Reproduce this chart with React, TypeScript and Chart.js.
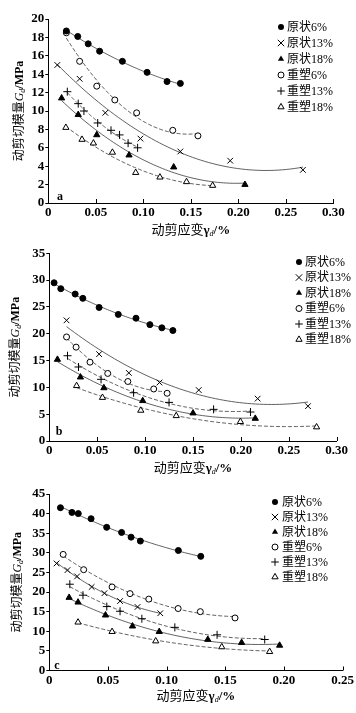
import React, { useEffect, useRef } from "react";
import { Chart, registerables } from "chart.js";
Chart.register(...registerables);

// ---------- labels ----------
const SERIES_LABELS = ["原状6%", "原状13%", "原状18%", "重塑6%", "重塑13%", "重塑18%"];
const X_TICKS_AB = ["0", "0.05", "0.10", "0.15", "0.20", "0.25", "0.30"];
const X_TICKS_C = ["0", "0.05", "0.10", "0.15", "0.20", "0.25"];
const Y_TICKS_A = ["0", "2", "4", "6", "8", "10", "12", "14", "16", "18", "20"];
const Y_TICKS_B = ["0", "5", "10", "15", "20", "25", "30", "35"];
const Y_TICKS_C = ["0", "5", "10", "15", "20", "25", "30", "35", "40", "45"];

// ---------- panel a ----------
const A_YZ6_X = [0.019, 0.031, 0.042, 0.054, 0.078, 0.104, 0.125, 0.139];
const A_YZ6_Y = [18.7, 18.1, 17.3, 16.5, 15.4, 14.2, 13.2, 13.0];
const A_YZ13_X = [0.0095, 0.033, 0.06, 0.097, 0.139, 0.1915, 0.268];
const A_YZ13_Y = [15.0, 13.5, 9.8, 7.0, 5.6, 4.6, 3.6];
const A_YZ18_X = [0.014, 0.0315, 0.051, 0.085, 0.132, 0.207];
const A_YZ18_Y = [11.4, 9.6, 7.4, 5.2, 3.9, 2.0];
const A_CS6_X = [0.019, 0.033, 0.051, 0.07, 0.093, 0.131, 0.1575];
const A_CS6_Y = [18.5, 15.4, 12.7, 11.2, 9.8, 7.9, 7.3];
const A_CS13_X = [0.02, 0.0315, 0.0375, 0.052, 0.066, 0.075, 0.084, 0.094];
const A_CS13_Y = [12.1, 10.8, 10.0, 8.7, 7.9, 7.4, 6.5, 6.0];
const A_CS18_X = [0.0185, 0.0355, 0.0475, 0.0675, 0.092, 0.1175, 0.1455, 0.173];
const A_CS18_Y = [8.2, 6.9, 6.5, 5.5, 3.3, 2.8, 2.3, 1.9];

// ---------- panel b ----------
const B_YZ6_X = [0.005, 0.012, 0.027, 0.035, 0.052, 0.072, 0.0905, 0.105, 0.1175, 0.129];
const B_YZ6_Y = [29.5, 28.4, 27.4, 26.6, 24.9, 23.6, 22.9, 21.7, 21.1, 20.6];
const B_YZ13_X = [0.018, 0.052, 0.083, 0.115, 0.156, 0.2175, 0.27];
const B_YZ13_Y = [22.5, 16.2, 12.7, 10.9, 9.5, 7.9, 6.5];
const B_YZ18_X = [0.0085, 0.0325, 0.057, 0.0975, 0.15, 0.215];
const B_YZ18_Y = [15.2, 11.9, 9.9, 7.5, 5.2, 4.2];
const B_CS6_X = [0.018, 0.028, 0.0425, 0.061, 0.082, 0.109, 0.123];
const B_CS6_Y = [19.4, 17.5, 14.7, 12.6, 11.1, 9.7, 8.9];
const B_CS13_X = [0.019, 0.0305, 0.054, 0.088, 0.125, 0.1715, 0.21];
const B_CS13_Y = [15.9, 13.8, 11.5, 9.0, 7.2, 5.9, 5.4];
const B_CS18_X = [0.0285, 0.0555, 0.0955, 0.1325, 0.1995, 0.279];
const B_CS18_Y = [10.3, 8.1, 5.7, 4.7, 3.6, 2.6];

// ---------- panel c ----------
const C_YZ6_X = [0.0095, 0.0193, 0.0247, 0.0356, 0.0489, 0.0616, 0.0697, 0.0776, 0.11, 0.1291];
const C_YZ6_Y = [41.5, 40.3, 40.0, 38.7, 36.5, 35.2, 34.0, 33.0, 30.6, 29.1];
const C_YZ13_X = [0.0062, 0.0155, 0.0237, 0.0361, 0.047, 0.0603, 0.0752, 0.0946];
const C_YZ13_Y = [27.3, 25.6, 24.0, 21.3, 19.7, 17.7, 16.2, 14.6];
const C_YZ18_X = [0.0169, 0.0245, 0.0479, 0.0709, 0.0937, 0.1351, 0.1639, 0.1963];
const C_YZ18_Y = [18.6, 17.4, 14.1, 11.3, 9.9, 7.9, 7.1, 6.4];
const C_CS6_X = [0.0118, 0.0293, 0.0535, 0.0688, 0.0848, 0.1098, 0.1287, 0.1583];
const C_CS6_Y = [29.6, 25.7, 21.3, 19.6, 18.2, 15.8, 15.0, 13.4];
const C_CS13_X = [0.0175, 0.0287, 0.049, 0.0603, 0.0789, 0.107, 0.143, 0.1836];
const C_CS13_Y = [22.0, 19.2, 16.3, 15.1, 13.2, 11.0, 9.1, 7.9];
const C_CS18_X = [0.0245, 0.0535, 0.0907, 0.147, 0.1878];
const C_CS18_Y = [12.3, 9.9, 7.5, 6.0, 4.8];

const SERIF = "'Liberation Serif','Noto Sans CJK SC',serif";
const MARKERS = ["dot", "x", "tri", "ring", "plus", "otri"];

// quadratic least-squares trend line (like a spreadsheet polynomial trendline)
function quadFit(xs: number[], ys: number[]) {
  let n = xs.length, s1 = 0, s2 = 0, s3 = 0, s4 = 0, t0 = 0, t1 = 0, t2 = 0;
  for (let i = 0; i < n; i++) {
    const x = xs[i], y = ys[i];
    s1 += x; s2 += x * x; s3 += x * x * x; s4 += x * x * x * x;
    t0 += y; t1 += x * y; t2 += x * x * y;
  }
  const M = [[n, s1, s2, t0], [s1, s2, s3, t1], [s2, s3, s4, t2]];
  for (let c = 0; c < 3; c++) {
    let p = c;
    for (let r = c + 1; r < 3; r++) if (Math.abs(M[r][c]) > Math.abs(M[p][c])) p = r;
    [M[c], M[p]] = [M[p], M[c]];
    for (let r = 0; r < 3; r++) {
      if (r === c) continue;
      const f = M[r][c] / M[c][c];
      for (let k = c; k < 4; k++) M[r][k] -= f * M[c][k];
    }
  }
  const a = M[0][3] / M[0][0], b = M[1][3] / M[1][1], cc = M[2][3] / M[2][2];
  return (x: number) => a + b * x + cc * x * x;
}

function trend(xs: number[], ys: number[]) {
  const f = quadFit(xs, ys);
  const x0 = Math.min(...xs), x1 = Math.max(...xs);
  const pts: { x: number; y: number }[] = [];
  const N = 60;
  for (let i = 0; i <= N; i++) {
    const x = x0 + ((x1 - x0) * i) / N;
    pts.push({ x, y: f(x) });
  }
  return pts;
}

function drawMarker(ctx: CanvasRenderingContext2D, kind: string, x: number, y: number) {
  ctx.save();
  ctx.strokeStyle = "#000";
  ctx.fillStyle = "#000";
  ctx.lineWidth = 1;
  ctx.beginPath();
  if (kind === "dot" || kind === "ring") {
    ctx.arc(x, y, 3, 0, Math.PI * 2);
    if (kind === "dot") ctx.fill();
    else { ctx.fillStyle = "#fff"; ctx.fill(); ctx.stroke(); }
  } else if (kind === "tri" || kind === "otri") {
    const r = 3.6;
    ctx.moveTo(x, y - r);
    ctx.lineTo(x + r * 0.866, y + r * 0.5);
    ctx.lineTo(x - r * 0.866, y + r * 0.5);
    ctx.closePath();
    if (kind === "tri") ctx.fill();
    else { ctx.fillStyle = "#fff"; ctx.fill(); ctx.stroke(); }
  } else if (kind === "x") {
    const r = 3.2;
    ctx.moveTo(x - r, y - r); ctx.lineTo(x + r, y + r);
    ctx.moveTo(x - r, y + r); ctx.lineTo(x + r, y - r);
    ctx.stroke();
  } else {
    const r = 3.8;
    ctx.moveTo(x - r, y); ctx.lineTo(x + r, y);
    ctx.moveTo(x, y - r); ctx.lineTo(x, y + r);
    ctx.stroke();
  }
  ctx.restore();
}

type PanelDef = {
  top: number; height: number; padTop: number; padRight: number; left: number; bottomSpace: number;
  xLabels: string[]; yLabels: string[];
  xs: number[][]; ys: number[][];
  legendMX: number; legendTX: number; legendY: number; legendStep: number;
  xTitleY: number; yTitleX: number; tag: string; tagX: number; tagY: number;
};

const PANELS: PanelDef[] = [
  {
    top: 0, height: 238, padTop: 19, padRight: 22.7, left: 48.3, bottomSpace: 35,
    xLabels: X_TICKS_AB, yLabels: Y_TICKS_A,
    xs: [A_YZ6_X, A_YZ13_X, A_YZ18_X, A_CS6_X, A_CS13_X, A_CS18_X],
    ys: [A_YZ6_Y, A_YZ13_Y, A_YZ18_Y, A_CS6_Y, A_CS13_Y, A_CS18_Y],
    legendMX: 281, legendTX: 287, legendY: 27, legendStep: 16,
    xTitleY: 231, yTitleX: 20, tag: "a", tagX: 60, tagY: 197,
  },
  {
    top: 238, height: 236, padTop: 15.3, padRight: 19.3, left: 49.3, bottomSpace: 33,
    xLabels: X_TICKS_AB, yLabels: Y_TICKS_B,
    xs: [B_YZ6_X, B_YZ13_X, B_YZ18_X, B_CS6_X, B_CS13_X, B_CS18_X],
    ys: [B_YZ6_Y, B_YZ13_Y, B_YZ18_Y, B_CS6_Y, B_CS13_Y, B_CS18_Y],
    legendMX: 299, legendTX: 305, legendY: 24, legendStep: 15.5,
    xTitleY: 231, yTitleX: 16, tag: "b", tagX: 59, tagY: 194,
  },
  {
    top: 474, height: 239, padTop: 20, padRight: 11, left: 49.3, bottomSpace: 42.5,
    xLabels: X_TICKS_C, yLabels: Y_TICKS_C,
    xs: [C_YZ6_X, C_YZ13_X, C_YZ18_X, C_CS6_X, C_CS13_X, C_CS18_X],
    ys: [C_YZ6_Y, C_YZ13_Y, C_YZ18_Y, C_CS6_Y, C_CS13_Y, C_CS18_Y],
    legendMX: 275, legendTX: 282, legendY: 28, legendStep: 15,
    xTitleY: 223, yTitleX: 18, tag: "c", tagX: 57, tagY: 192,
  },
];

function drawSegments(ctx: CanvasRenderingContext2D, segs: { t: string; f: string; dy?: number }[], cx: number, cy: number) {
  let total = 0;
  for (const s of segs) { ctx.font = s.f; total += ctx.measureText(s.t).width; }
  let x = cx - total / 2;
  ctx.textAlign = "left";
  ctx.textBaseline = "middle";
  for (const s of segs) {
    ctx.font = s.f;
    ctx.fillText(s.t, x, cy + (s.dy || 0));
    x += ctx.measureText(s.t).width;
  }
}

function buildConfig(p: PanelDef): any {
  const datasets: any[] = [];
  p.xs.forEach((xs, i) => {
    const dashed = i >= 3;
    datasets.push({
      type: "line",
      label: "fit-" + SERIES_LABELS[i],
      data: trend(xs, p.ys[i]),
      borderColor: "#3a3a3a",
      borderWidth: 0.8,
      borderDash: dashed ? [4, 2] : [],
      pointRadius: 0,
      fill: false,
      tension: 0,
      order: 2,
    });
  });
  p.xs.forEach((xs, i) => {
    const kind = MARKERS[i];
    const style = kind === "dot" || kind === "ring" ? "circle" : kind === "x" ? "crossRot" : kind === "plus" ? "cross" : "triangle";
    const open = kind === "ring" || kind === "otri";
    datasets.push({
      type: "scatter",
      label: SERIES_LABELS[i],
      data: xs.map((x, j) => ({ x, y: p.ys[i][j] })),
      pointStyle: style,
      pointRadius: kind === "dot" || kind === "ring" ? 3 : kind === "tri" || kind === "otri" ? 3.6 : 4,
      pointBorderWidth: 1,
      pointBackgroundColor: open ? "#fff" : "#000",
      pointBorderColor: "#000",
      showLine: false,
      order: 1,
    });
  });
  const xVals = p.xLabels.map(Number);
  const yVals = p.yLabels.map(Number);
  const tickFont = { family: SERIF, size: 13, weight: "bold" as const };

  const overlay = {
    id: "overlay",
    afterDraw(chart: any) {
      const ctx: CanvasRenderingContext2D = chart.ctx;
      const area = chart.chartArea;
      const xs = chart.scales.x;
      ctx.save();
      ctx.strokeStyle = "#000";
      ctx.lineWidth = 1;
      // inward x ticks
      xVals.forEach((v) => {
        const px = Math.round(xs.getPixelForValue(v)) + 0.5;
        ctx.beginPath();
        ctx.moveTo(px, area.bottom);
        ctx.lineTo(px, area.bottom - 4);
        ctx.stroke();
      });
      ctx.fillStyle = "#000";
      // legend
      SERIES_LABELS.forEach((lab, i) => {
        const y = p.legendY + i * p.legendStep;
        drawMarker(ctx, MARKERS[i], p.legendMX, y);
        ctx.font = "12px " + SERIF;
        ctx.textAlign = "left";
        ctx.textBaseline = "middle";
        ctx.fillStyle = "#000";
        ctx.fillText(lab, p.legendTX, y + 0.5);
      });
      // x axis title
      const cx = (area.left + area.right) / 2;
      drawSegments(ctx, [
        { t: "动剪应变", f: "13px " + SERIF },
        { t: "γ", f: "bold 13px " + SERIF },
        { t: "d", f: "italic 8px " + SERIF, dy: 3 },
        { t: "/%", f: "bold 13px " + SERIF },
      ], cx, p.xTitleY);
      // y axis title
      ctx.save();
      ctx.translate(p.yTitleX, (area.top + area.bottom) / 2);
      ctx.rotate(-Math.PI / 2);
      drawSegments(ctx, [
        { t: "动剪切模量", f: "12px " + SERIF },
        { t: "G", f: "italic 12px " + SERIF },
        { t: "d", f: "italic 8px " + SERIF, dy: 3 },
        { t: "/MPa", f: "bold 12px " + SERIF },
      ], 0, 0);
      ctx.restore();
      // panel tag
      ctx.font = "bold 12px " + SERIF;
      ctx.textAlign = "center";
      ctx.textBaseline = "middle";
      ctx.fillText(p.tag, p.tagX, p.tagY);
      ctx.restore();
    },
  };

  return {
    type: "scatter",
    data: { datasets },
    plugins: [overlay],
    options: {
      animation: false,
      responsive: false,
      devicePixelRatio: 1,
      layout: { padding: { top: p.padTop, right: p.padRight, left: 0, bottom: 0 } },
      plugins: { legend: { display: false }, tooltip: { enabled: false }, title: { display: false } },
      scales: {
        x: {
          type: "linear",
          min: 0,
          max: xVals[xVals.length - 1],
          afterBuildTicks: (s: any) => { s.ticks = xVals.map((v) => ({ value: v })); },
          afterFit: (s: any) => { s.height = p.bottomSpace; },
          ticks: {
            autoSkip: false, maxRotation: 0, padding: 2, color: "#000", font: tickFont,
            callback: (_v: any, i: number) => p.xLabels[i],
          },
          grid: { drawOnChartArea: false, drawTicks: false, color: "#000" },
          border: { display: true, color: "#000", width: 1 },
          title: { display: false },
        },
        y: {
          type: "linear",
          min: 0,
          max: yVals[yVals.length - 1],
          afterBuildTicks: (s: any) => { s.ticks = yVals.map((v) => ({ value: v })); },
          afterFit: (s: any) => { s.width = p.left; },
          ticks: {
            autoSkip: false, padding: 1, color: "#000", font: tickFont,
            callback: (_v: any, i: number) => p.yLabels[i],
          },
          grid: { drawOnChartArea: false, drawTicks: true, tickLength: 3, color: "#000" },
          border: { display: true, color: "#000", width: 1 },
          title: { display: false },
        },
      },
    },
  };
}

function PanelChart({ p }: { p: PanelDef }) {
  const ref = useRef<HTMLCanvasElement | null>(null);
  useEffect(() => {
    if (!ref.current) return;
    const chart = new Chart(ref.current, buildConfig(p));
    return () => chart.destroy();
  }, [p]);
  return (
    <div style={{ position: "absolute", left: 0, top: p.top, width: 356, height: p.height }}>
      <canvas ref={ref} width={356} height={p.height} style={{ width: 356, height: p.height, display: "block" }} />
    </div>
  );
}

export default function App() {
  return (
    <div style={{ position: "absolute", left: 0, top: 0, width: 356, height: 713, background: "#fff" }}>
      {PANELS.map((p, i) => (
        <PanelChart key={i} p={p} />
      ))}
    </div>
  );
}
